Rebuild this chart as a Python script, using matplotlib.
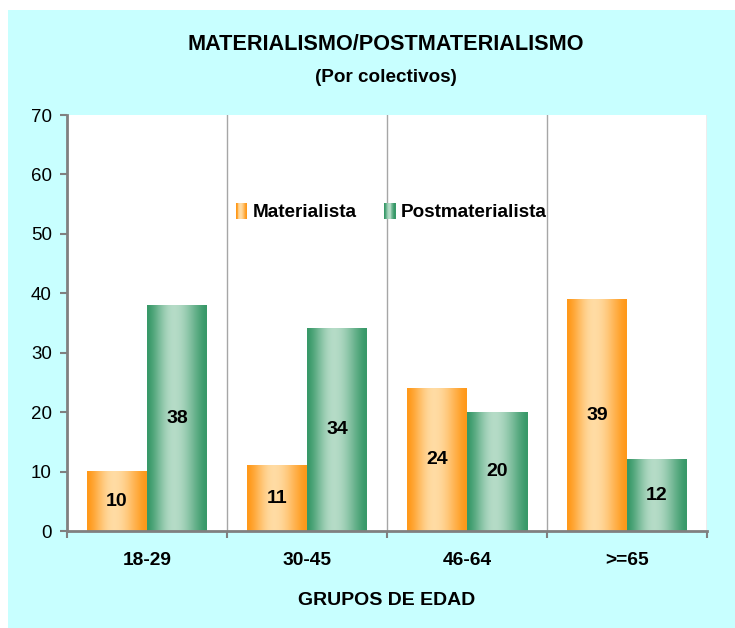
import numpy as np
import matplotlib
matplotlib.use('Agg')
import matplotlib.pyplot as plt
from matplotlib.patches import Rectangle
from matplotlib.legend_handler import HandlerBase

grupos = ['18-29', '30-45', '46-64', '>=65']
materialista = [10, 11, 24, 39]
postmaterialista = [38, 34, 20, 12]

plt.rcParams['font.family'] = ['Liberation Sans', 'DejaVu Sans']

# colores borde / centro para el degradado
naranja_borde = np.array([1.0, 0.60, 0.10])
naranja_centro = np.array([1.0, 0.86, 0.64])
verde_borde = np.array([0.22, 0.60, 0.41])
verde_centro = np.array([0.71, 0.86, 0.78])


def degradado(borde, centro, n=60):
    t = np.linspace(0, 1, n)
    # mas claro hacia 0.45 del ancho
    f = np.where(t < 0.45, t / 0.45, (1 - t) / 0.55)
    f = np.sin(f * np.pi / 2) ** 1.5
    cols = borde[None, :] * (1 - f[:, None]) + centro[None, :] * f[:, None]
    return cols[None, :, :]


class HandlerDegradado(HandlerBase):
    def __init__(self, borde, centro):
        super().__init__()
        self.borde = borde
        self.centro = centro

    def create_artists(self, legend, orig_handle, xdescent, ydescent,
                       width, height, fontsize, trans):
        cols = degradado(self.borde, self.centro, 12)[0]
        w = width * 0.45
        x0 = width - w - xdescent
        arts = []
        for k, c in enumerate(cols):
            r = Rectangle((x0 + k * w / len(cols), -ydescent - 1), w / len(cols) + 0.3,
                          height + 2, facecolor=c, edgecolor='none', transform=trans)
            arts.append(r)
        return arts


fig = plt.figure(figsize=(7.35, 6.28), dpi=100)
fig.patch.set_facecolor('white')
fondo = Rectangle((8 / 735, 0), 1, 1 - 10 / 628, transform=fig.transFigure,
                  facecolor='#c8ffff', edgecolor='none', zorder=-10)
fig.patches.append(fondo)

ax = fig.add_axes([67 / 735, 1 - 531 / 628, 640 / 735, 416 / 628])
ax.set_facecolor('white')

x = np.arange(len(grupos))
w = 0.375
img_n = degradado(naranja_borde, naranja_centro)
img_v = degradado(verde_borde, verde_centro)
for i in range(len(grupos)):
    ax.imshow(img_n, extent=(x[i] - w, x[i], 0, materialista[i]), aspect='auto',
              interpolation='bilinear', zorder=3)
    ax.imshow(img_v, extent=(x[i], x[i] + w, 0, postmaterialista[i]), aspect='auto',
              interpolation='bilinear', zorder=3)
    ax.text(x[i] - w / 2, materialista[i] / 2, str(materialista[i]), ha='center', va='center',
            fontsize=14, fontweight='bold', zorder=4)
    ax.text(x[i] + w / 2, postmaterialista[i] / 2, str(postmaterialista[i]), ha='center',
            va='center', fontsize=14, fontweight='bold', zorder=4)

ax.set_xlim(-0.5, 3.5)
ax.set_ylim(0, 70)

for b in [0.5, 1.5, 2.5, 3.5]:
    ax.axvline(b, color='#a6a6a6', lw=1, zorder=1)

ax.set_xticks([-0.5, 0.5, 1.5, 2.5, 3.5])
ax.set_xticklabels([])
ax.set_xticks(x, minor=True)
ax.set_xticklabels(grupos, minor=True, fontsize=13.8, fontweight='bold')
ax.tick_params(axis='x', which='minor', length=0, pad=15)
ax.tick_params(axis='x', which='major', length=5, width=1.5, color='#808080', direction='out')
ax.set_yticks(range(0, 71, 10))
ax.tick_params(axis='y', length=5, width=1.5, color='#808080', labelsize=13.5, pad=6)

for s in ['top', 'right']:
    ax.spines[s].set_visible(False)
for s in ['left', 'bottom']:
    ax.spines[s].set_color('#808080')
    ax.spines[s].set_linewidth(2)
    ax.spines[s].set_zorder(5)

ax.set_xlabel('GRUPOS DE EDAD', fontsize=14, fontweight='bold', labelpad=17)

h1 = Rectangle((0, 0), 1, 1)
h2 = Rectangle((0, 0), 1, 1)
ax.legend([h1, h2], ['Materialista', 'Postmaterialista'], ncol=2, frameon=False,
          loc='center', bbox_to_anchor=(0.496, 0.765),
          prop={'weight': 'bold', 'size': 13.6}, handlelength=1.3, handletextpad=0.3,
          columnspacing=0.75,
          handler_map={h1: HandlerDegradado(naranja_borde, naranja_centro),
                       h2: HandlerDegradado(verde_borde, verde_centro)})

fig.text(0.525, 1 - 45 / 628, 'MATERIALISMO/POSTMATERIALISMO', ha='center', va='center',
         fontsize=15.6, fontweight='bold')
fig.text(0.525, 1 - 78 / 628, '(Por colectivos)', ha='center', va='center',
         fontsize=13.6, fontweight='bold')

fig.savefig('out.png', dpi=100)
